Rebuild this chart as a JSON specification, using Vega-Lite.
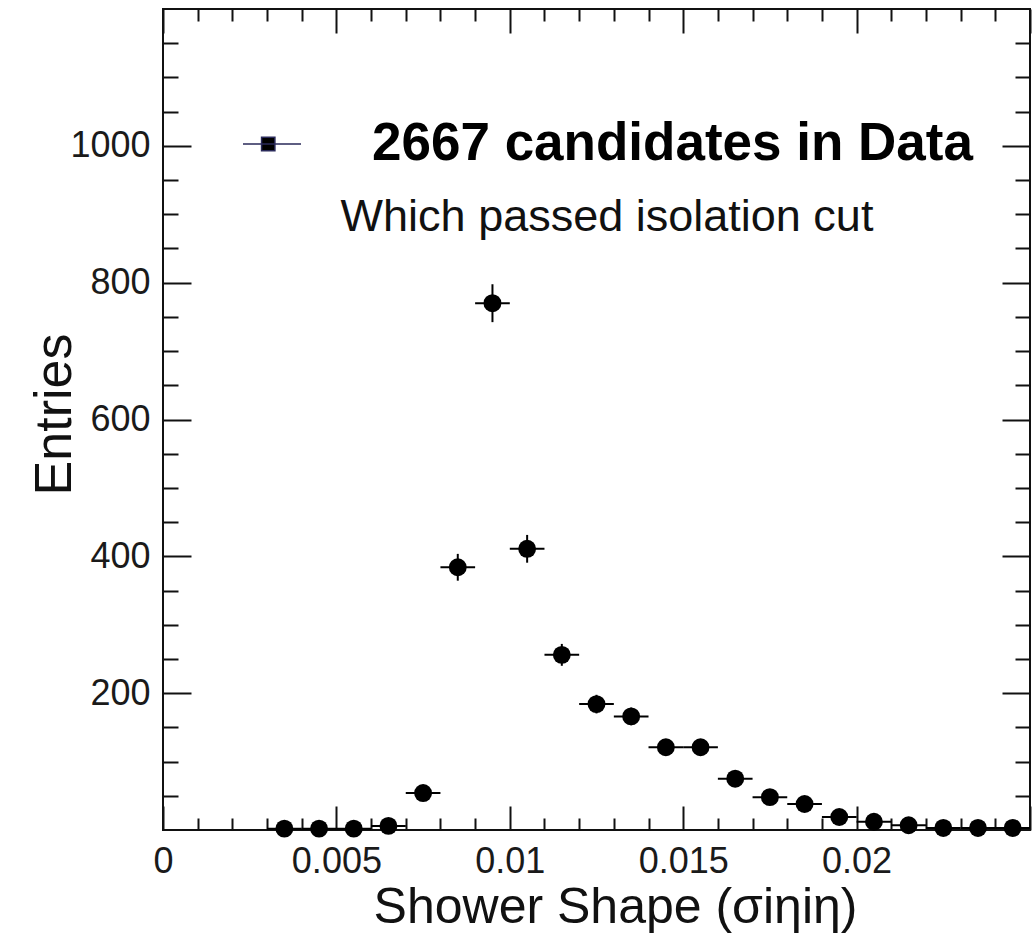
{
  "$schema": "https://vega.github.io/schema/vega-lite/v6.json",
  "width": 867,
  "height": 821,
  "autosize": {"type": "none"},
  "padding": {"left": 163, "top": 9, "right": 5, "bottom": 115},
  "background": "white",
  "config": {
    "font": "Liberation Sans",
    "view": {"stroke": "#111111", "strokeWidth": 2},
    "axis": {"domain": false, "grid": false, "tickColor": "#111111", "tickWidth": 2, "labelFont": "Liberation Sans", "labelFontSize": 36, "labelColor": "#1a1a1a", "labelFlush": false, "labelOverlap": false, "labelBound": false, "titleFont": "Liberation Sans", "titleFontWeight": "normal", "titleColor": "#111111"}
  },
  "data": {
    "values": [
      {"x": 0.0035, "xlo": 0.003, "xhi": 0.004, "n": 2, "lo": 0.6, "hi": 3.4},
      {"x": 0.0045, "xlo": 0.004, "xhi": 0.005, "n": 2, "lo": 0.6, "hi": 3.4},
      {"x": 0.0055, "xlo": 0.005, "xhi": 0.006, "n": 2, "lo": 0.6, "hi": 3.4},
      {"x": 0.0065, "xlo": 0.006, "xhi": 0.007, "n": 6, "lo": 3.6, "hi": 8.4},
      {"x": 0.0075, "xlo": 0.007, "xhi": 0.008, "n": 54, "lo": 46.7, "hi": 61.3},
      {"x": 0.0085, "xlo": 0.008, "xhi": 0.009, "n": 384, "lo": 364.4, "hi": 403.6},
      {"x": 0.0095, "xlo": 0.009, "xhi": 0.010, "n": 770, "lo": 742.3, "hi": 797.7},
      {"x": 0.0105, "xlo": 0.010, "xhi": 0.011, "n": 411, "lo": 390.7, "hi": 431.3},
      {"x": 0.0115, "xlo": 0.011, "xhi": 0.012, "n": 256, "lo": 240, "hi": 272},
      {"x": 0.0125, "xlo": 0.012, "xhi": 0.013, "n": 184, "lo": 170.4, "hi": 197.6},
      {"x": 0.0135, "xlo": 0.013, "xhi": 0.014, "n": 166, "lo": 153.1, "hi": 178.9},
      {"x": 0.0145, "xlo": 0.014, "xhi": 0.015, "n": 121, "lo": 110, "hi": 132},
      {"x": 0.0155, "xlo": 0.015, "xhi": 0.016, "n": 121, "lo": 110, "hi": 132},
      {"x": 0.0165, "xlo": 0.016, "xhi": 0.017, "n": 75, "lo": 66.3, "hi": 83.7},
      {"x": 0.0175, "xlo": 0.017, "xhi": 0.018, "n": 48, "lo": 41.1, "hi": 54.9},
      {"x": 0.0185, "xlo": 0.018, "xhi": 0.019, "n": 38, "lo": 31.8, "hi": 44.2},
      {"x": 0.0195, "xlo": 0.019, "xhi": 0.020, "n": 19, "lo": 14.6, "hi": 23.4},
      {"x": 0.0205, "xlo": 0.020, "xhi": 0.021, "n": 12, "lo": 8.5, "hi": 15.5},
      {"x": 0.0215, "xlo": 0.021, "xhi": 0.022, "n": 7, "lo": 4.4, "hi": 9.6},
      {"x": 0.0225, "xlo": 0.022, "xhi": 0.023, "n": 3, "lo": 1.3, "hi": 4.7},
      {"x": 0.0235, "xlo": 0.023, "xhi": 0.024, "n": 3, "lo": 1.3, "hi": 4.7},
      {"x": 0.0245, "xlo": 0.024, "xhi": 0.025, "n": 3, "lo": 1.3, "hi": 4.7}
    ]
  },
  "resolve": {"axis": {"x": "independent", "y": "independent"}},
  "layer": [
    {
      "mark": {"type": "rule", "color": "#000000", "strokeWidth": 2},
      "encoding": {
        "x": {"field": "xlo", "type": "quantitative", "scale": {"domain": [0, 0.025], "nice": false, "zero": false},
          "axis": {"orient": "top", "labels": false, "title": null,
            "values": [0,0.001,0.002,0.003,0.004,0.005,0.006,0.007,0.008,0.009,0.01,0.011,0.012,0.013,0.014,0.015,0.016,0.017,0.018,0.019,0.02,0.021,0.022,0.023,0.024,0.025],
            "tickSize": {"condition": {"test": "abs(datum.value*200 - round(datum.value*200)) < 0.01", "value": -24}, "value": -12}}},
        "x2": {"field": "xhi"},
        "y": {"field": "n", "type": "quantitative", "scale": {"domain": [0, 1200], "nice": false, "zero": false},
          "axis": {"orient": "right", "labels": false, "title": null,
            "values": [50,100,150,200,250,300,350,400,450,500,550,600,650,700,750,800,850,900,950,1000,1050,1100,1150],
            "tickSize": {"condition": {"test": "datum.value % 200 === 0", "value": -28}, "value": -15}}}
      }
    },
    {
      "mark": {"type": "rule", "color": "#000000", "strokeWidth": 2},
      "encoding": {
        "x": {"field": "x", "type": "quantitative", "axis": null},
        "y": {"field": "lo", "type": "quantitative", "axis": null},
        "y2": {"field": "hi"}
      }
    },
    {
      "mark": {"type": "circle", "size": 320, "opacity": 1},
      "encoding": {
        "x": {"field": "x", "type": "quantitative",
          "axis": {"orient": "bottom", "format": "~g",
            "values": [0,0.001,0.002,0.003,0.004,0.005,0.006,0.007,0.008,0.009,0.01,0.011,0.012,0.013,0.014,0.015,0.016,0.017,0.018,0.019,0.02,0.021,0.022,0.023,0.024,0.025],
            "labelExpr": "abs(datum.value*200 - round(datum.value*200)) < 0.01 && datum.value < 0.0245 ? datum.label : ''",
            "tickSize": {"condition": {"test": "abs(datum.value*200 - round(datum.value*200)) < 0.01", "value": -24}, "value": -12},
            "labelPadding": 38,
            "title": "Shower Shape (σiηiη)", "titleFontSize": 50, "titleX": 452, "titleY": 92, "titleBaseline": "alphabetic", "titleAlign": "center"}},
        "y": {"field": "n", "type": "quantitative",
          "axis": {"orient": "left", "format": "d",
            "values": [50,100,150,200,250,300,350,400,450,500,550,600,650,700,750,800,850,900,950,1000,1050,1100,1150],
            "labelExpr": "datum.value % 200 === 0 ? datum.label : ''",
            "tickSize": {"condition": {"test": "datum.value % 200 === 0", "value": -28}, "value": -15},
            "labelPadding": 41,
            "title": "Entries", "titleFontSize": 52, "titleX": -93, "titleY": 405, "titleAngle": -90, "titleBaseline": "alphabetic", "titleAlign": "center"}},
        "color": {"datum": "2667 candidates in Data", "type": "nominal", "scale": {"range": ["#000000"]},
          "legend": {"orient": "none", "legendX": 79, "legendY": 105, "padding": 0,
            "symbolType": "M-1,0H1M-0.36,-0.23H0.1V0.23H-0.36Z", "symbolSize": 3364, "symbolStrokeColor": "#2a2a5a", "symbolStrokeWidth": 1.5, "symbolOpacity": 1,
            "labelOffset": 70, "labelFontSize": 53, "labelFontWeight": "bold", "labelFont": "Liberation Sans", "labelColor": "#000000", "labelLimit": 1000,
            "title": "Which passed isolation cut", "titleOrient": "bottom", "titleAnchor": "middle", "titleFontSize": 45, "titleFontWeight": "normal", "titleFont": "Liberation Sans", "titleColor": "#111111", "titlePadding": 24, "titleLimit": 1000}}
      }
    }
  ]
}
